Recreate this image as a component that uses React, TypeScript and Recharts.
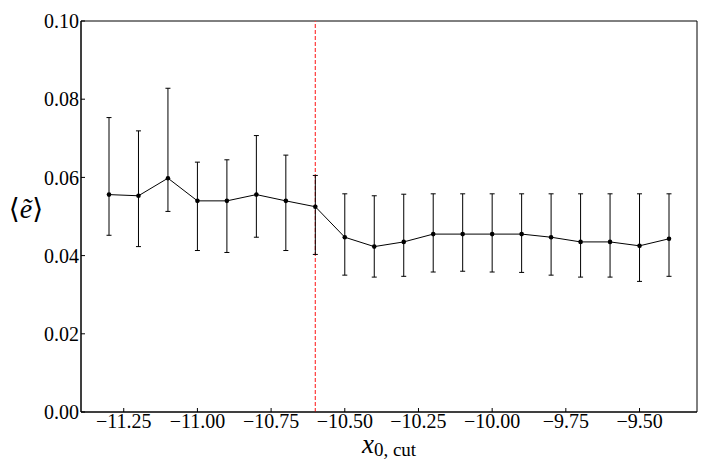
import React from "react"
import { ComposedChart, Line, XAxis, YAxis, ErrorBar, ReferenceLine, ReferenceArea, Label } from "recharts"

const xCuts = [-11.3, -11.2, -11.1, -11.0, -10.9, -10.8, -10.7, -10.6, -10.5, -10.4, -10.3, -10.2, -10.1, -10.0, -9.9, -9.8, -9.7, -9.6, -9.5, -9.4]
const meanE = [0.0556, 0.0553, 0.0598, 0.054, 0.054, 0.0556, 0.054, 0.0525, 0.0447, 0.0423, 0.0435, 0.0455, 0.0455, 0.0455, 0.0455, 0.0447, 0.0435, 0.0435, 0.0425, 0.0443]
const upperE = [0.0753, 0.0719, 0.0828, 0.0639, 0.0645, 0.0707, 0.0657, 0.0605, 0.0558, 0.0553, 0.0557, 0.0558, 0.0558, 0.0558, 0.0558, 0.0558, 0.0558, 0.0558, 0.0558, 0.0558]
const lowerE = [0.0452, 0.0423, 0.0513, 0.0413, 0.0408, 0.0447, 0.0413, 0.0403, 0.035, 0.0345, 0.0347, 0.0358, 0.036, 0.0358, 0.0357, 0.035, 0.0345, 0.0345, 0.0334, 0.0347]

const xTicks = [-11.25, -11.0, -10.75, -10.5, -10.25, -10.0, -9.75, -9.5]
const yTicks = [0, 0.02, 0.04, 0.06, 0.08, 0.1]
const xDomain: [number, number] = [-11.395, -9.305]
const yDomain: [number, number] = [0, 0.1]
const cutLine = -10.6

const FONT = "'Liberation Serif', 'DejaVu Serif', serif"

const data = xCuts.map((x, i) => ({
  x,
  e: meanE[i],
  err: [meanE[i] - lowerE[i], upperE[i] - meanE[i]],
}))

const fmtX = (v: number) => (v < 0 ? "\u2212" : "") + Math.abs(v).toFixed(2)

export default function App() {
  return (
    <div style={{ position: "absolute", left: 0, top: 0, background: "#fff" }}>
      <ComposedChart width={718} height={467} data={data} margin={{ top: 21, right: 21, bottom: 0, left: 0 }}>
        <XAxis
          dataKey="x"
          type="number"
          domain={xDomain}
          ticks={xTicks}
          tickFormatter={fmtX}
          allowDataOverflow
          height={55}
          tickSize={-4}
          tickMargin={6}
          axisLine={{ stroke: "#000" }}
          tickLine={{ stroke: "#000" }}
          tick={{ fontSize: 20, fill: "#000", fontFamily: FONT }}
        >
          <Label
            content={({ viewBox }: any) => (
              <text x={viewBox.x + viewBox.width / 2} y={viewBox.y + 41} textAnchor="middle" fontFamily={FONT} fill="#000">
                <tspan fontSize={27} fontStyle="italic">x</tspan>
                <tspan fontSize={19} dy={3}>0, cut</tspan>
              </text>
            )}
          />
        </XAxis>
        <YAxis
          type="number"
          domain={yDomain}
          ticks={yTicks}
          tickFormatter={(v: number) => v.toFixed(2)}
          width={81}
          tickSize={-4}
          tickMargin={6}
          axisLine={{ stroke: "#000" }}
          tickLine={{ stroke: "#000" }}
          tick={{ fontSize: 20, fill: "#000", fontFamily: FONT }}
        >
          <Label
            content={({ viewBox }: any) => (
              <text x={viewBox.x + 26} y={viewBox.y + viewBox.height / 2 + 1} textAnchor="middle" fontFamily={FONT} fontSize={28} fill="#000">
                <tspan>{"\u27E8"}</tspan>
                <tspan fontStyle="italic">{"\u1EBD"}</tspan>
                <tspan>{"\u27E9"}</tspan>
              </text>
            )}
          />
        </YAxis>
        <ReferenceArea x1={xDomain[0]} x2={xDomain[1]} y1={yDomain[0]} y2={yDomain[1]} fill="none" stroke="#000" strokeWidth={1} />
        <ReferenceLine x={cutLine} stroke="#ff3a3a" strokeDasharray="4 2" strokeWidth={1.2} />
        <Line
          dataKey="e"
          type="linear"
          stroke="#000"
          strokeWidth={1}
          dot={{ r: 2.3, fill: "#000", stroke: "#000", strokeWidth: 0 }}
          isAnimationActive={false}
        >
          <ErrorBar dataKey="err" direction="y" width={2.5} stroke="#000" strokeWidth={1} />
        </Line>
      </ComposedChart>
    </div>
  )
}
